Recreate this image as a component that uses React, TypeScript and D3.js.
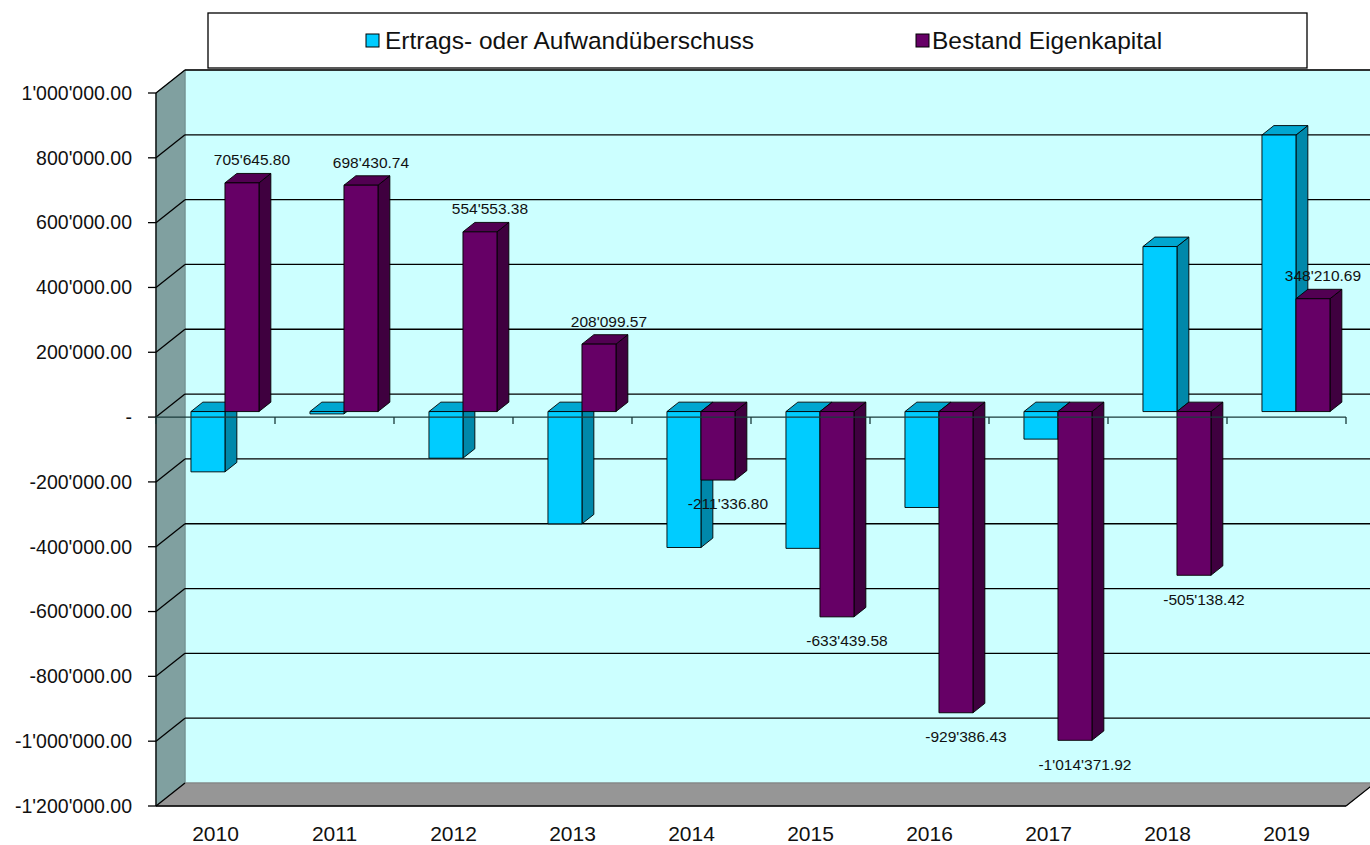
import React from 'react';
import * as d3 from 'd3';

const years = ['2010', '2011', '2012', '2013', '2014', '2015', '2016', '2017', '2018', '2019'];
const seriesNames = ['Ertrags- oder Aufwandüberschuss', 'Bestand Eigenkapital'];
const surplus = [-186000, -7215, -143877, -346454, -419436, -422103, -295947, -84985, 509233, 853349];
const equity = [705645.8, 698430.74, 554553.38, 208099.57, -211336.8, -633439.58, -929386.43, -1014371.92, -505138.42, 348210.69];
const yTicks = [1000000, 800000, 600000, 400000, 200000, 0, -200000, -400000, -600000, -800000, -1000000, -1200000];

const W = 1370;
const H = 845;
const X0 = 156;
const X1 = 1346;
const YT = 93;
const YB = 806;
const DX = 29;
const DY = -23;
const F0 = 0.24;
const BD = 0.41;
const FONT = '"Liberation Sans", Arial, sans-serif';

const loc = d3.formatLocale({ decimal: '.', thousands: "'", grouping: [3], currency: ['', ''], minus: '-' });
const fmt2 = loc.format(',.2f');
const fmt = (v: number) => (v === 0 ? '-' : fmt2(v));

const palettes = [
  { front: '#00CCFF', side: '#0088AA', top: '#00A6D0' },
  { front: '#660066', side: '#3F003F', top: '#520052' },
];

export default function App() {
  const x = d3.scaleBand<string>().domain(years).range([X0, X1]);
  const inner = d3.scaleBand<string>().domain(['s', 'e']).range([28, 96]);
  const y = d3.scaleLinear().domain([-1200000, 1000000]).range([YB, YT]);
  const bw = inner.bandwidth();
  const ox = DX * F0, oy = DY * F0, bx = DX * BD, by = DY * BD;

  const bar = (key: string, xl: number, v: number, p: { front: string; side: string; top: string }) => {
    const x0 = xl + ox;
    const x1 = x0 + bw;
    const yt = y(Math.max(v, 0)) + oy;
    const yb = y(Math.min(v, 0)) + oy;
    const side = `${x1},${yt} ${x1 + bx},${yt + by} ${x1 + bx},${yb + by} ${x1},${yb}`;
    const top = `${x0},${yt} ${x1},${yt} ${x1 + bx},${yt + by} ${x0 + bx},${yt + by}`;
    return (
      <g key={key} stroke="#000" strokeWidth={0.9} strokeLinejoin="round">
        <polygon points={side} fill={p.side} />
        <polygon points={top} fill={p.top} />
        <rect x={x0} y={yt} width={bw} height={Math.max(yb - yt, 0.5)} fill={p.front} />
      </g>
    );
  };

  const backX0 = X0 + DX;
  const backX1 = X1 + DX;

  return (
    <svg width={W} height={H} style={{ position: 'absolute', left: 0, top: 0, background: '#fff' }} fontFamily={FONT}>
      {/* back wall */}
      <rect x={backX0} y={YT + DY} width={backX1 - backX0} height={YB - YT} fill="#CCFFFF" stroke="#8a9a9a" strokeWidth={1} />
      {/* left wall */}
      <polygon points={`${X0},${YT} ${backX0},${YT + DY} ${backX0},${YB + DY} ${X0},${YB}`} fill="#80A0A0" stroke="#6f8f8f" strokeWidth={1} />
      {/* floor */}
      <polygon points={`${X0},${YB} ${X1},${YB} ${backX1},${YB + DY} ${backX0},${YB + DY}`} fill="#969696" stroke="#808080" strokeWidth={1} />
      {/* gridlines */}
      {yTicks.map((t) => (
        <g key={'g' + t} stroke="#000" strokeWidth={1.3}>
          {t !== -1200000 && <line x1={backX0} x2={backX1} y1={y(t) + DY} y2={y(t) + DY} />}
          <line x1={X0} x2={backX0} y1={y(t)} y2={y(t) + DY} />
        </g>
      ))}
      {/* floor front edge */}
      <line x1={X0} x2={X1} y1={YB} y2={YB} stroke="#000" strokeWidth={1.5} />
      <line x1={X1} x2={backX1} y1={YB} y2={YB + DY} stroke="#000" strokeWidth={1.2} />
      {/* y axis */}
      <line x1={X0} x2={X0} y1={YT} y2={YB} stroke="#000" strokeWidth={1.3} />
      {yTicks.map((t) => (
        <g key={'t' + t}>
          <line x1={X0 - 8} x2={X0} y1={y(t)} y2={y(t)} stroke="#000" strokeWidth={1.3} />
          <text x={132} y={y(t)} dy="0.35em" textAnchor="end" fontSize={19.5} fill="#111">
            {fmt(t)}
          </text>
        </g>
      ))}
      {/* bars */}
      {years.map((yr, i) => (
        <g key={'b' + yr}>
          {bar('s' + yr, (x(yr) as number) + (inner('s') as number), surplus[i], palettes[0])}
          {bar('e' + yr, (x(yr) as number) + (inner('e') as number), equity[i], palettes[1])}
        </g>
      ))}
      {/* category axis at zero */}
      <line x1={X0} x2={X1} y1={y(0)} y2={y(0)} stroke="#1a3a3a" strokeWidth={1.4} />
      {years.concat(['end']).map((yr, i) => {
        const xx = X0 + i * x.bandwidth();
        return <line key={'ct' + i} x1={xx} x2={xx} y1={y(0)} y2={y(0) + 7} stroke="#1a3a3a" strokeWidth={1.3} />;
      })}
      {/* category labels */}
      {years.map((yr) => (
        <text key={'c' + yr} x={(x(yr) as number) + x.bandwidth() / 2} y={834} dy="0.35em" textAnchor="middle" fontSize={21} fill="#111">
          {yr}
        </text>
      ))}
      {/* data labels */}
      {years.map((yr, i) => {
        const v = equity[i];
        const cx = (x(yr) as number) + (inner('e') as number) + ox + bw / 2 + 10;
        const cy = v >= 0 ? y(v) + oy - 23 : y(v) + oy + 24;
        return (
          <text key={'l' + yr} x={cx} y={cy} dy="0.35em" textAnchor="middle" fontSize={15.5} fill="#111">
            {fmt(v)}
          </text>
        );
      })}
      {/* legend */}
      <rect x={208} y={13} width={1099} height={55} fill="#fff" stroke="#000" strokeWidth={1.3} />
      <rect x={366} y={34} width={13} height={13} fill={palettes[0].front} stroke="#000" strokeWidth={1} />
      <text x={385} y={49} fontSize={24.5} fill="#111">{seriesNames[0]}</text>
      <rect x={916} y={34} width={13} height={13} fill={palettes[1].front} stroke="#000" strokeWidth={1} />
      <text x={932} y={49} fontSize={24.5} fill="#111">{seriesNames[1]}</text>
    </svg>
  );
}
